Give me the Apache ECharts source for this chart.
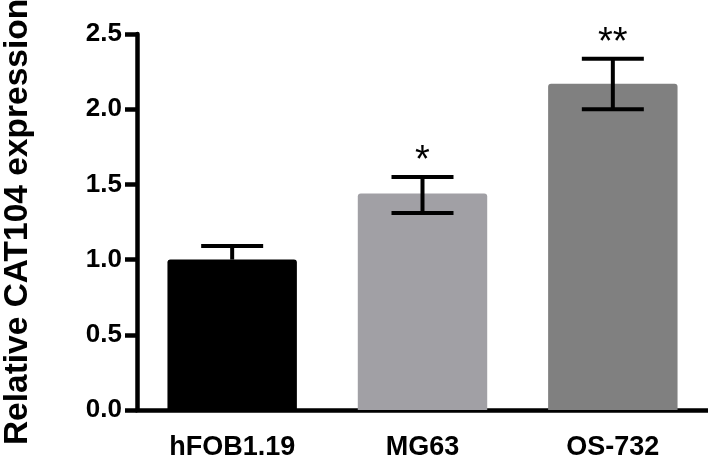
<!DOCTYPE html>
<html>
<head>
<meta charset="utf-8">
<script src="https://cdn.jsdelivr.net/npm/echarts@6/dist/echarts.min.js"></script>
<style>html,body{margin:0;padding:0;background:#fff;}#c{width:708px;height:457px;}</style>
</head>
<body>
<div id="c"></div>
<script>
var categories = ['hFOB1.19', 'MG63', 'OS-732'];
var means = [1.00, 1.44, 2.17];
var errUpper = [1.09, 1.55, 2.335];
var errLower = [0.91, 1.31, 2.00];
var significance = ['', '*', '**'];
var barColors = ['#000000', '#a1a0a5', '#808080'];
var yTicks = [0.0, 0.5, 1.0, 1.5, 2.0, 2.5];

var chart = echarts.init(document.getElementById('c'), null, {renderer: 'canvas'});
var font = 'Liberation Sans, Arial, sans-serif';
var errData = categories.map(function (c, i) { return [i, errLower[i], errUpper[i], means[i], significance[i]]; });

chart.setOption({
  animation: false,
  grid: {left: 137, right: 0, top: 34, bottom: 47, containLabel: false, outerBoundsMode: 'none'},
  xAxis: {
    type: 'category',
    data: categories,
    axisLine: {lineStyle: {color: '#000', width: 4.5}},
    axisTick: {alignWithLabel: true, length: 12, lineStyle: {color: '#000', width: 4.5}},
    axisLabel: {color: '#000', fontFamily: font, fontWeight: 'bold', fontSize: 27, margin: 24}
  },
  yAxis: {
    type: 'value',
    min: 0, max: 2.5, interval: 0.5,
    name: 'Relative CAT104 expression',
    nameLocation: 'middle',
    nameRotate: 90,
    nameGap: 102,
    nameTextStyle: {color: '#000', fontFamily: font, fontWeight: 'bold', fontSize: 33.5},
    axisLine: {show: true, lineStyle: {color: '#000', width: 4.5}},
    axisTick: {show: true, length: 12, lineStyle: {color: '#000', width: 4.5}},
    splitLine: {show: false},
    axisLabel: {color: '#000', fontFamily: font, fontWeight: 'bold', fontSize: 26, margin: 15,
      formatter: function (v) { return v.toFixed(1); }}
  },
  series: [
    {
      type: 'bar',
      barWidth: '68%',
      data: means.map(function (v, i) { return {value: v, itemStyle: {color: barColors[i], borderRadius: [3, 3, 0, 0]}}; }),
      z: 2
    },
    {
      type: 'custom',
      z: 3,
      data: errData,
      renderItem: function (params, api) {
        var x = api.value(0);
        var hi = api.coord([x, api.value(2)]);
        var lo = api.coord([x, api.value(1)]);
        var mid = api.coord([x, api.value(3)]);
        var half = 31;
        var style = {stroke: '#000', lineWidth: 4};
        var children = [];
        if (params.dataIndex === 0) {
          children.push({type: 'line', shape: {x1: hi[0], y1: hi[1], x2: mid[0], y2: mid[1]}, style: style});
          children.push({type: 'line', shape: {x1: hi[0] - half, y1: hi[1], x2: hi[0] + half, y2: hi[1]}, style: style});
        } else {
          children.push({type: 'line', shape: {x1: hi[0], y1: hi[1], x2: lo[0], y2: lo[1]}, style: style});
          children.push({type: 'line', shape: {x1: hi[0] - half, y1: hi[1], x2: hi[0] + half, y2: hi[1]}, style: style});
          children.push({type: 'line', shape: {x1: lo[0] - half, y1: lo[1], x2: lo[0] + half, y2: lo[1]}, style: style});
        }
        var sig = api.value(4);
        if (sig) {
          children.push({type: 'text', style: {text: sig, x: hi[0], y: hi[1] + 4, textAlign: 'center', textVerticalAlign: 'bottom',
            fill: '#000', font: 'normal 38px ' + font}});
        }
        return {type: 'group', children: children};
      }
    }
  ]
});
</script>
</body>
</html>
